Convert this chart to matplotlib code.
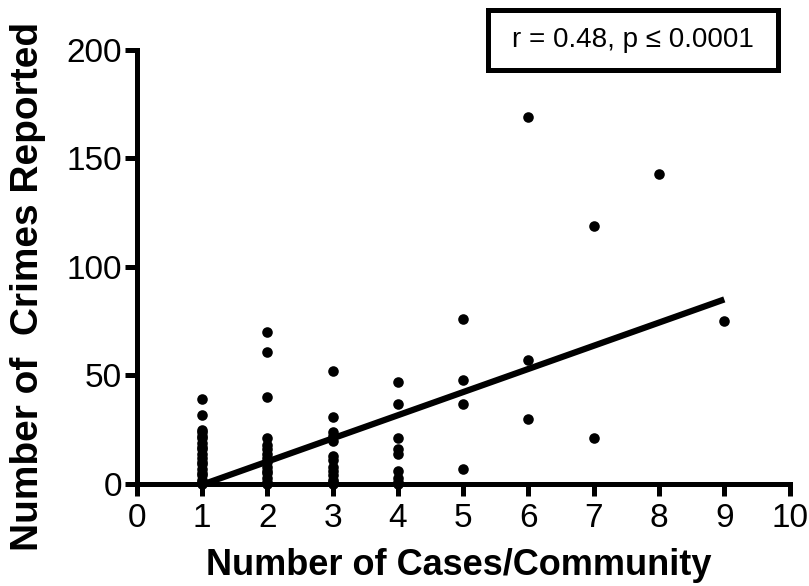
import matplotlib
matplotlib.use("Agg")
import matplotlib.pyplot as plt
from matplotlib.patches import Rectangle
import numpy as np

# ---- data ----
cases_1 = [39, 32, 25, 24, 22, 21, 19, 17, 16, 14, 12, 10, 9, 7, 5, 4, 2, 1, 0]
cases_2 = [70, 61, 40, 21, 18, 16, 14, 12, 10, 8, 6, 5, 3, 1, 0]
cases_3 = [52, 31, 24, 22, 20, 13, 11, 8, 6, 4, 2, 1, 0]
cases_4 = [47, 37, 21, 16, 14, 6, 3, 1, 0]
cases_5 = [76, 48, 37, 7]
cases_6 = [169, 57, 30]
cases_7 = [119, 21]
cases_8 = [143]
cases_9 = [75]
groups = [cases_1, cases_2, cases_3, cases_4, cases_5, cases_6, cases_7, cases_8, cases_9]
group_x = [1, 2, 3, 4, 5, 6, 7, 8, 9]

fit_slope = 10.67
fit_intercept = -11.0
fit_x_range = [1, 9]

x_ticks = [0, 1, 2, 3, 4, 5, 6, 7, 8, 9, 10]
y_ticks = [0, 50, 100, 150, 200]
stat_text = "r = 0.48, p \u2264 0.0001"
x_label = "Number of Cases/Community"
y_label = "Number of  Crimes Reported"

plt.rcParams['font.family'] = ['Liberation Sans', 'DejaVu Sans']

fig = plt.figure(figsize=(8.09, 5.86), dpi=100)
ax = fig.add_axes([0.169, 0.174, 0.807, 0.741])

xs = []
ys = []
for gx, vals in zip(group_x, groups):
    xs.extend([gx] * len(vals))
    ys.extend(vals)
ax.scatter(xs, ys, s=58, color='black', zorder=3, clip_on=False, linewidths=0)

fx = np.array(fit_x_range, dtype=float)
fy = fit_slope * fx + fit_intercept
ax.plot(fx, fy, color='black', linewidth=4.5, solid_capstyle='butt', zorder=2)

ax.set_xlim(0, 10)
ax.set_ylim(0, 200)
ax.set_xticks(x_ticks)
ax.set_yticks(y_ticks)
ax.set_xticklabels([str(t) for t in x_ticks])
ax.set_yticklabels([str(t) for t in y_ticks])

for side in ['top', 'right']:
    ax.spines[side].set_visible(False)
for side in ['left', 'bottom']:
    ax.spines[side].set_linewidth(3.6)
    ax.spines[side].set_capstyle('projecting')

ax.tick_params(axis='both', direction='out', length=8.5, width=3.6,
               labelsize=24)
ax.tick_params(axis='y', pad=2)
ax.tick_params(axis='x', pad=5)

ax.set_xlabel(x_label, fontsize=26, fontweight='bold', va='center')
ax.xaxis.set_label_coords(0.493, -0.187)
ax.set_ylabel(y_label, fontsize=28, fontweight='bold', va='center')
ax.yaxis.set_label_coords(-0.167, 0.454)

# stat box
box = Rectangle((0.603, 0.880), 0.359, 0.103, transform=fig.transFigure,
                fill=False, edgecolor='black', linewidth=3.6)
fig.patches.append(box)
fig.text(0.7825, 0.9315, stat_text, ha='center', va='center', fontsize=20)

fig.savefig("out.png", dpi=100)
